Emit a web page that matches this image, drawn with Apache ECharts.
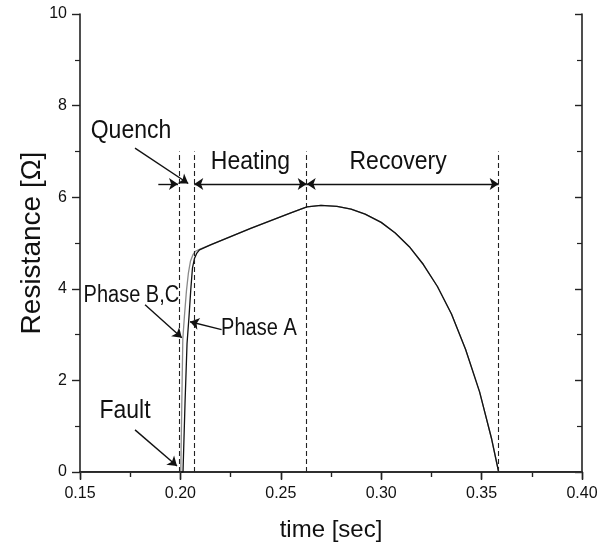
<!DOCTYPE html>
<html>
<head>
<meta charset="utf-8">
<script src="https://cdn.jsdelivr.net/npm/echarts@6/dist/echarts.min.js"></script>
<style>html,body{margin:0;padding:0;background:#fff}#c{width:606px;height:552px}</style>
</head>
<body>
<div id="c"></div>
<script>
// ---- data (time in s, resistance in ohm) ----
var xTicks = [0.15, 0.20, 0.25, 0.30, 0.35, 0.40];
var yTicks = [0, 2, 4, 6, 8, 10];
var riseBC = [[0.15,0],[0.2002,0],[0.2007,1.5],[0.2012,2.9],[0.2020,3.4],[0.2030,3.95],[0.2040,4.35],[0.2050,4.6],[0.2062,4.74],[0.2075,4.82],[0.2095,4.86]];
var riseA  = [[0.15,0],[0.2013,0],[0.2023,1.5],[0.2033,2.8],[0.2043,3.4],[0.2052,4.0],[0.2060,4.45],[0.2070,4.66],[0.2082,4.78],[0.2095,4.85]];
var heating = [[0.215,4.96],[0.225,5.14],[0.235,5.32],[0.245,5.49],[0.255,5.66],[0.263,5.79]];
var recovery = [[0.270,5.82],[0.278,5.80],[0.285,5.74],[0.292,5.63],[0.300,5.45],[0.307,5.22],[0.314,4.92],[0.321,4.53],[0.328,4.05],[0.335,3.45],[0.342,2.68],[0.349,1.75],[0.355,0.72],[0.3585,0],[0.40,0]];
var stageBounds = [0.1995, 0.2069, 0.2629, 0.3585];
var boundTop = 7.0;
var labels = [
  {text:'Quench', at:[0.1754,7.45], size:23},
  {text:'Heating', at:[0.2349,6.77], size:23},
  {text:'Recovery', at:[0.3084,6.77], size:23},
  {text:'Fault', at:[0.1724,1.34], size:23},
  {text:'Phase B,C', at:[0.1756,3.85], size:20},
  {text:'Phase A', at:[0.2391,3.14], size:20}
];
var pointers = [
  {from:[0.1774,7.07], to:[0.2039,6.30], both:false},
  {from:[0.1890,6.29], to:[0.1988,6.29], both:false},
  {from:[0.2069,6.29], to:[0.2629,6.29], both:true},
  {from:[0.2629,6.29], to:[0.3585,6.29], both:true},
  {from:[0.1774,0.92], to:[0.1983,0.13], both:false},
  {from:[0.1824,3.65], to:[0.2007,2.93], both:false},
  {from:[0.2205,3.11], to:[0.2048,3.28], both:false}
];

var phaseBC = riseBC.concat(heating, recovery);
var phaseA = riseA.concat(heating, recovery);
var sans = '"Liberation Sans", Arial, sans-serif';

var chart = echarts.init(document.getElementById('c'), null, {renderer:'canvas'});
var axisLine = {show:true, lineStyle:{color:'#222', width:1.6}};
var opt = {
  animation:false,
  backgroundColor:'#fff',
  grid:{left:80, right:24, top:14, bottom:80, containLabel:false},
  xAxis:[{
    type:'value', min:xTicks[0], max:xTicks[xTicks.length-1], interval:0.05, position:'bottom',
    axisLine:axisLine, splitLine:{show:false},
    axisTick:{show:true, inside:false, length:8, lineStyle:{color:'#222', width:1.4}},
    minorTick:{show:true, splitNumber:2, length:5, lineStyle:{color:'#222', width:1.2}},
    axisLabel:{margin:14, fontFamily:sans, fontSize:16, color:'#111', formatter:function(v){return v.toFixed(2);}},
    name:'time [sec]', nameLocation:'middle', nameGap:46, nameMoveOverlap:false,
    nameTextStyle:{fontFamily:sans, fontSize:24, color:'#111'}
  },{
    type:'value', min:xTicks[0], max:xTicks[xTicks.length-1], interval:0.05, position:'top',
    axisLine:axisLine, splitLine:{show:false},
    axisTick:{show:true, inside:true, length:7, lineStyle:{color:'#222', width:1.4}},
    minorTick:{show:true, splitNumber:2, length:5, lineStyle:{color:'#222', width:1.2}},
    axisLabel:{show:false}
  }],
  yAxis:[{
    type:'value', min:yTicks[0], max:yTicks[yTicks.length-1], interval:2, position:'left',
    axisLine:axisLine, splitLine:{show:false},
    axisTick:{show:true, inside:false, length:8, lineStyle:{color:'#222', width:1.4}},
    minorTick:{show:true, splitNumber:2, length:5, lineStyle:{color:'#222', width:1.2}},
    axisLabel:{margin:13, fontFamily:sans, fontSize:16, color:'#111'},
    name:'Resistance [Ω]', nameLocation:'middle', nameGap:34, nameRotate:90, nameMoveOverlap:false,
    nameTextStyle:{fontFamily:sans, fontSize:28, color:'#111'}
  },{
    type:'value', min:yTicks[0], max:yTicks[yTicks.length-1], interval:2, position:'right',
    axisLine:axisLine, splitLine:{show:false},
    axisTick:{show:true, inside:true, length:7, lineStyle:{color:'#222', width:1.4}},
    minorTick:{show:true, splitNumber:2, length:5, lineStyle:{color:'#222', width:1.2}},
    axisLabel:{show:false}
  }],
  series:[{
    name:'Phase B,C', type:'line', data:phaseBC, showSymbol:false, symbol:'none',
    lineStyle:{color:'#8a8a8a', width:1.3}, z:2,
    markLine:{
      silent:true, symbol:['none','none'], animation:false,
      label:{show:false},
      lineStyle:{color:'#222', type:[5,3], width:1.1},
      data: stageBounds.map(function(t){return [{coord:[t,0]},{coord:[t,boundTop]}];})
    }
  },{
    name:'Phase A', type:'line', data:phaseA, showSymbol:false, symbol:'none',
    lineStyle:{color:'#111', width:1.3}, z:3,
    markLine:{
      silent:true, animation:false, label:{show:false},
      symbolSize:[9,9],
      lineStyle:{color:'#111', type:'solid', width:1.4},
      data: pointers.map(function(p){
        return [{coord:p.from, symbol:p.both?'arrow':'none'},{coord:p.to, symbol:'arrow'}];
      })
    }
  }]
};
chart.setOption(opt);
var g = labels.map(function(l){
  var p = chart.convertToPixel({gridIndex:0}, l.at);
  return {type:'text', x:p[0], y:p[1], scaleY:1.15, silent:true,
    style:{text:l.text, fontFamily:sans, fontSize:l.size, fill:'#111', align:'center', verticalAlign:'middle'}};
});
chart.setOption({graphic:g});
</script>
</body>
</html>
